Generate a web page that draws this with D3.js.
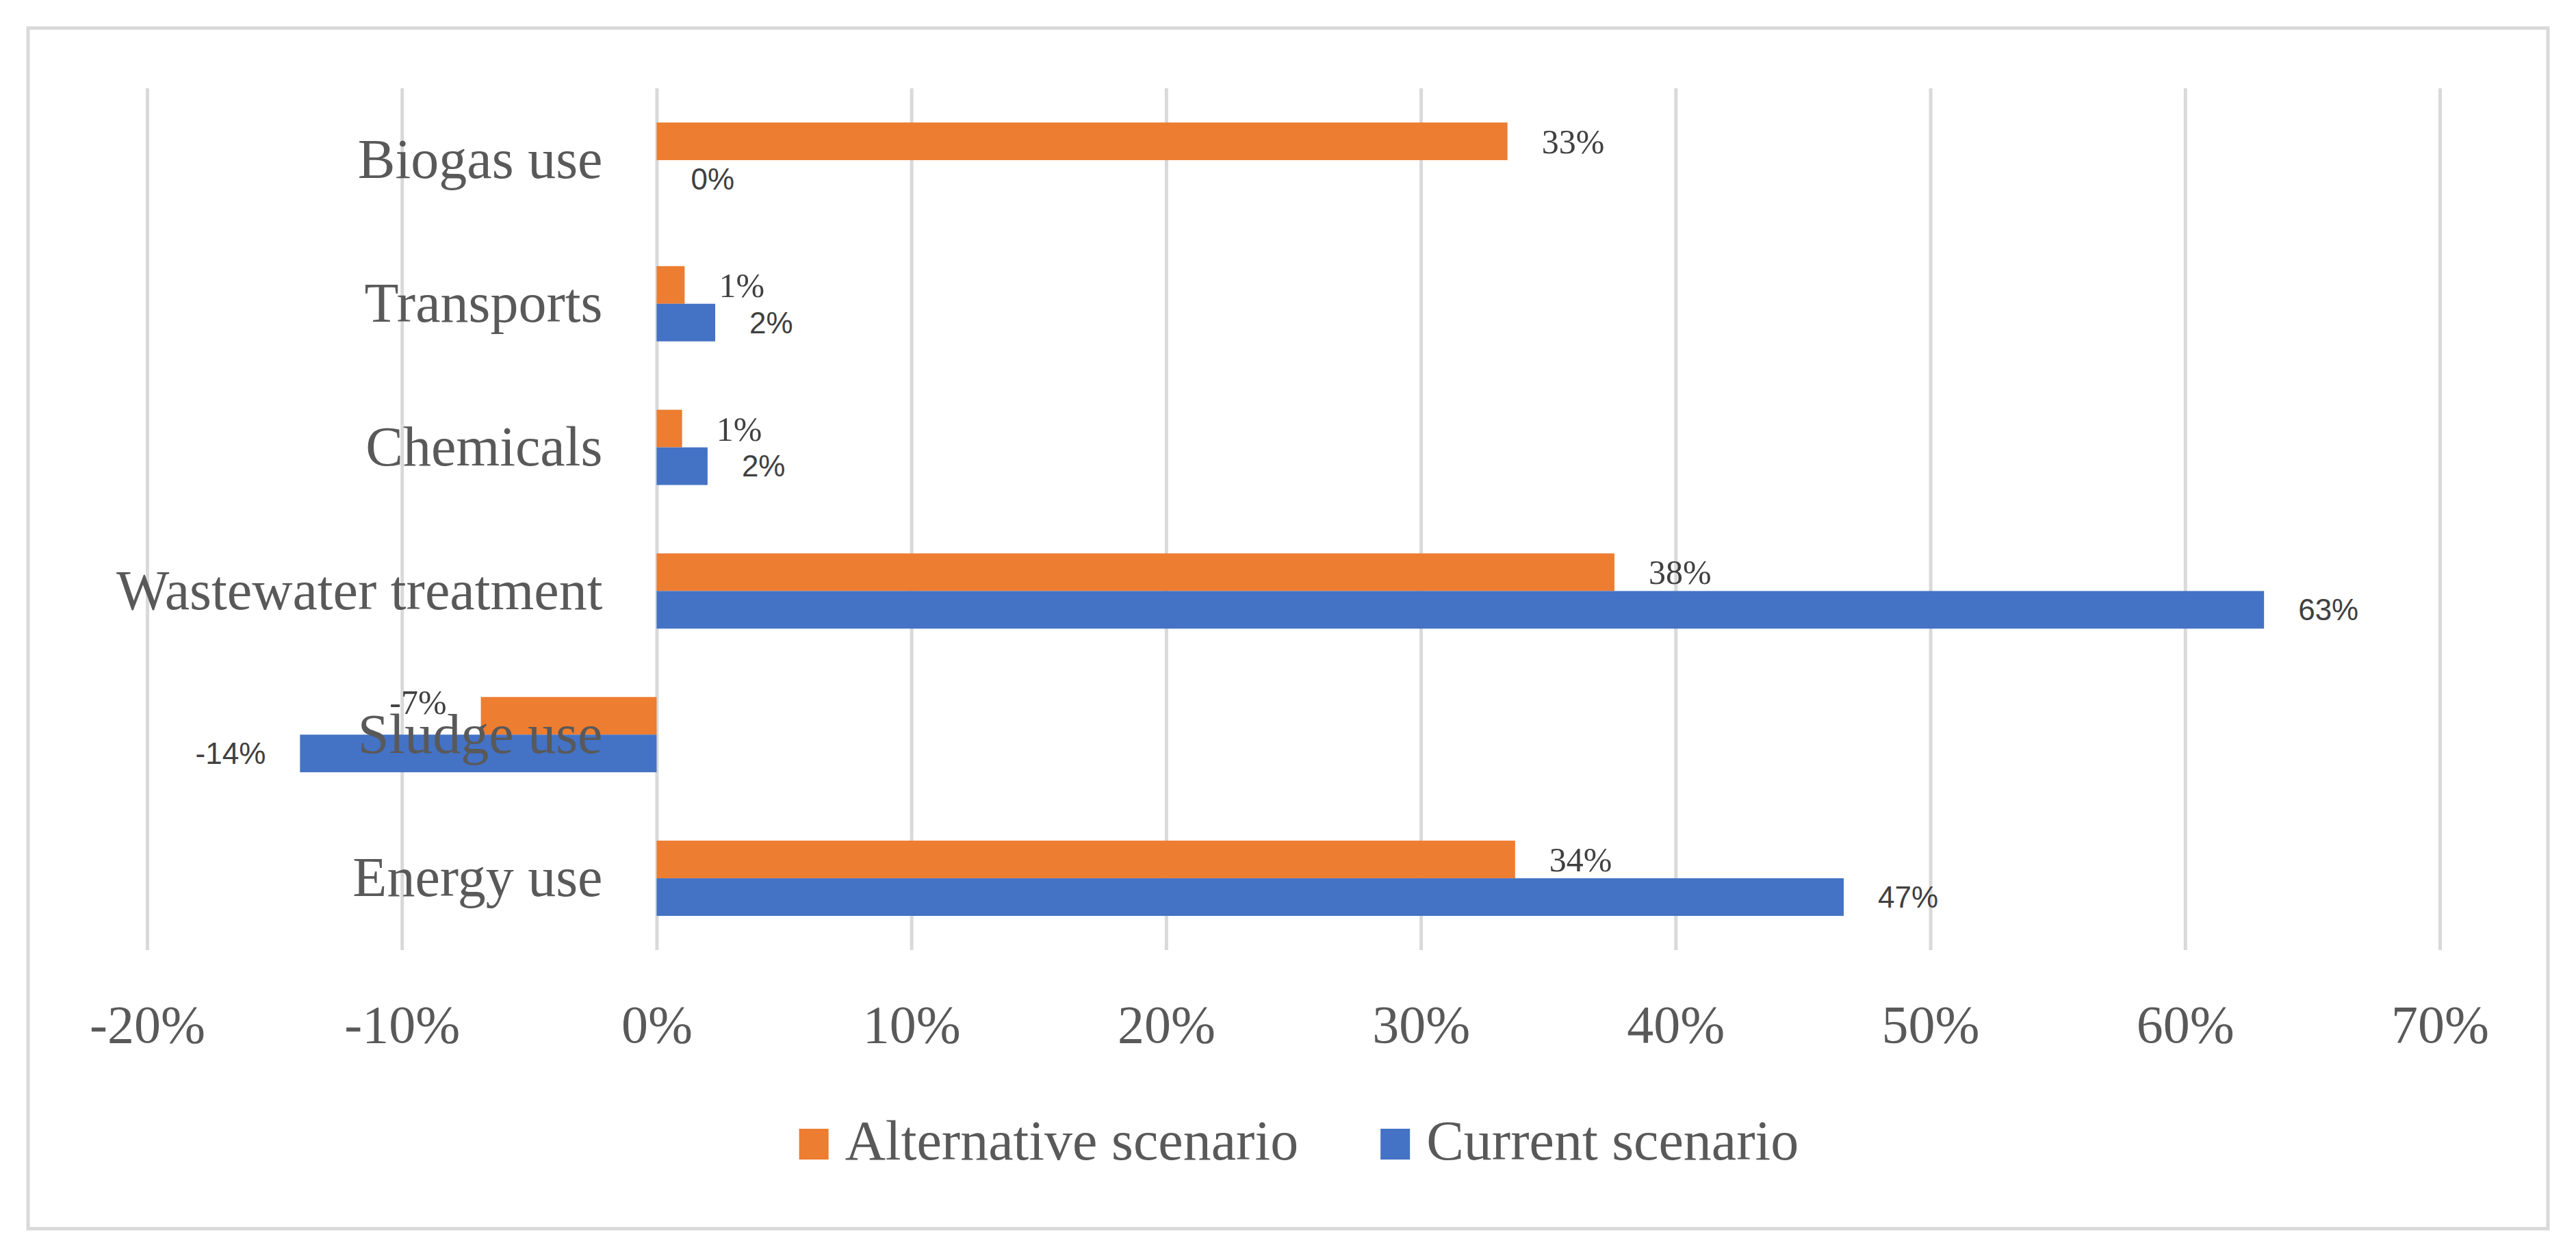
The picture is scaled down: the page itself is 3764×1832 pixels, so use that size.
<!DOCTYPE html>
<html>
<head>
<meta charset="utf-8">
<script src="https://cdn.jsdelivr.net/npm/d3@7"></script>
<style>
  body { margin: 0; background: #fff; }
</style>
</head>
<body>
<div id="chart"></div>
<script>
// Data
const categories = ["Biogas use", "Transports", "Chemicals", "Wastewater treatment", "Sludge use", "Energy use"];
const seriesNames = ["Alternative scenario", "Current scenario"];
const alternative = [0.334, 0.011, 0.010, 0.376, -0.069, 0.337];
const current = [0.000, 0.023, 0.020, 0.631, -0.140, 0.466];
const xTicks = [-0.2, -0.1, 0, 0.1, 0.2, 0.3, 0.4, 0.5, 0.6, 0.7];

const width = 3764;
const height = 1832;
const plot = { left: 215, right: 3565, top: 129, bottom: 1388 };
const colors = { "Alternative scenario": "#ED7D31", "Current scenario": "#4472C4" };
const serif = "'Liberation Serif', serif";
const sans = "'Liberation Sans', sans-serif";

const locale = d3.formatLocale({ decimal: ".", thousands: ",", grouping: [3], currency: ["", ""], minus: "-" });
const pct = locale.format(".0%");

const rows = categories.map((c, i) => ({
  category: c,
  values: [
    { series: seriesNames[0], value: alternative[i] },
    { series: seriesNames[1], value: current[i] }
  ]
}));

const svg = d3.select("#chart")
  .append("svg")
  .attr("width", width)
  .attr("height", height);

// chart border
svg.append("rect")
  .attr("x", 41).attr("y", 41)
  .attr("width", 3682).attr("height", 1754)
  .attr("fill", "#fff")
  .attr("stroke", "#d9d9d9")
  .attr("stroke-width", 5);

const x = d3.scaleLinear()
  .domain([-0.2, 0.7])
  .range([plot.left, plot.right]);

const y = d3.scaleBand()
  .domain(categories)
  .range([plot.top, plot.bottom])
  .paddingInner(0.476)
  .paddingOuter(0.238);

const ySub = d3.scaleBand()
  .domain(seriesNames)
  .range([0, y.bandwidth()]);

// gridlines + tick labels
const xAxis = svg.append("g")
  .attr("transform", `translate(0,${plot.bottom})`)
  .call(d3.axisBottom(x)
    .tickValues(xTicks)
    .tickFormat(pct)
    .tickSizeInner(-(plot.bottom - plot.top))
    .tickSizeOuter(0)
    .tickPadding(80));

xAxis.select(".domain").remove();
xAxis.selectAll(".tick line")
  .attr("stroke", "#d9d9d9")
  .attr("stroke-width", 5);
xAxis.selectAll(".tick text")
  .attr("fill", "#595959")
  .style("font-family", serif)
  .style("font-size", "78px");

// bars
const groups = svg.append("g")
  .selectAll("g")
  .data(rows)
  .join("g")
    .attr("transform", d => `translate(0,${y(d.category)})`);

groups.selectAll("rect")
  .data(d => d.values)
  .join("rect")
    .attr("x", d => x(Math.min(0, d.value)))
    .attr("y", d => ySub(d.series))
    .attr("width", d => Math.abs(x(d.value) - x(0)))
    .attr("height", ySub.bandwidth())
    .attr("fill", d => colors[d.series]);

// category labels (drawn over the bars)
const yAxis = svg.append("g")
  .attr("transform", `translate(${x(0)},0)`)
  .call(d3.axisLeft(y).tickSize(0).tickPadding(79));

yAxis.select(".domain").remove();
yAxis.selectAll(".tick text")
  .attr("fill", "#595959")
  .style("font-family", serif)
  .style("font-size", "82px");

// data labels (negative alternative label sits a bit high, as in Excel)
groups.selectAll("text.value")
  .data(d => d.values)
  .join("text")
    .attr("class", "value")
    .attr("x", d => d.value < 0 ? x(d.value) - 50 : x(d.value) + 50)
    .attr("y", d => ySub(d.series) + ySub.bandwidth() / 2
      - (d.value < 0 && d.series === seriesNames[0] ? 20 : 0))
    .attr("dy", "0.35em")
    .attr("text-anchor", d => d.value < 0 ? "end" : "start")
    .attr("fill", "#404040")
    .style("font-family", d => d.series === seriesNames[0] ? serif : sans)
    .style("font-size", d => d.series === seriesNames[0] ? "50px" : "44px")
    .text(d => pct(d.value));

// legend
const legend = svg.append("g");
let lx = 0;
seriesNames.forEach((name, i) => {
  const item = legend.append("g").attr("transform", `translate(${lx},0)`);
  item.append("rect")
    .attr("x", 0).attr("y", -45)
    .attr("width", 43).attr("height", 45)
    .attr("fill", colors[name]);
  const t = item.append("text")
    .attr("x", 67).attr("y", 0)
    .attr("fill", "#595959")
    .style("font-family", serif)
    .style("font-size", "82px")
    .text(name);
  lx += 67 + t.node().getComputedTextLength() + 120;
});
const legendW = lx - 120;
legend.attr("transform", `translate(${1898 - legendW / 2},1694)`);
</script>
</body>
</html>
